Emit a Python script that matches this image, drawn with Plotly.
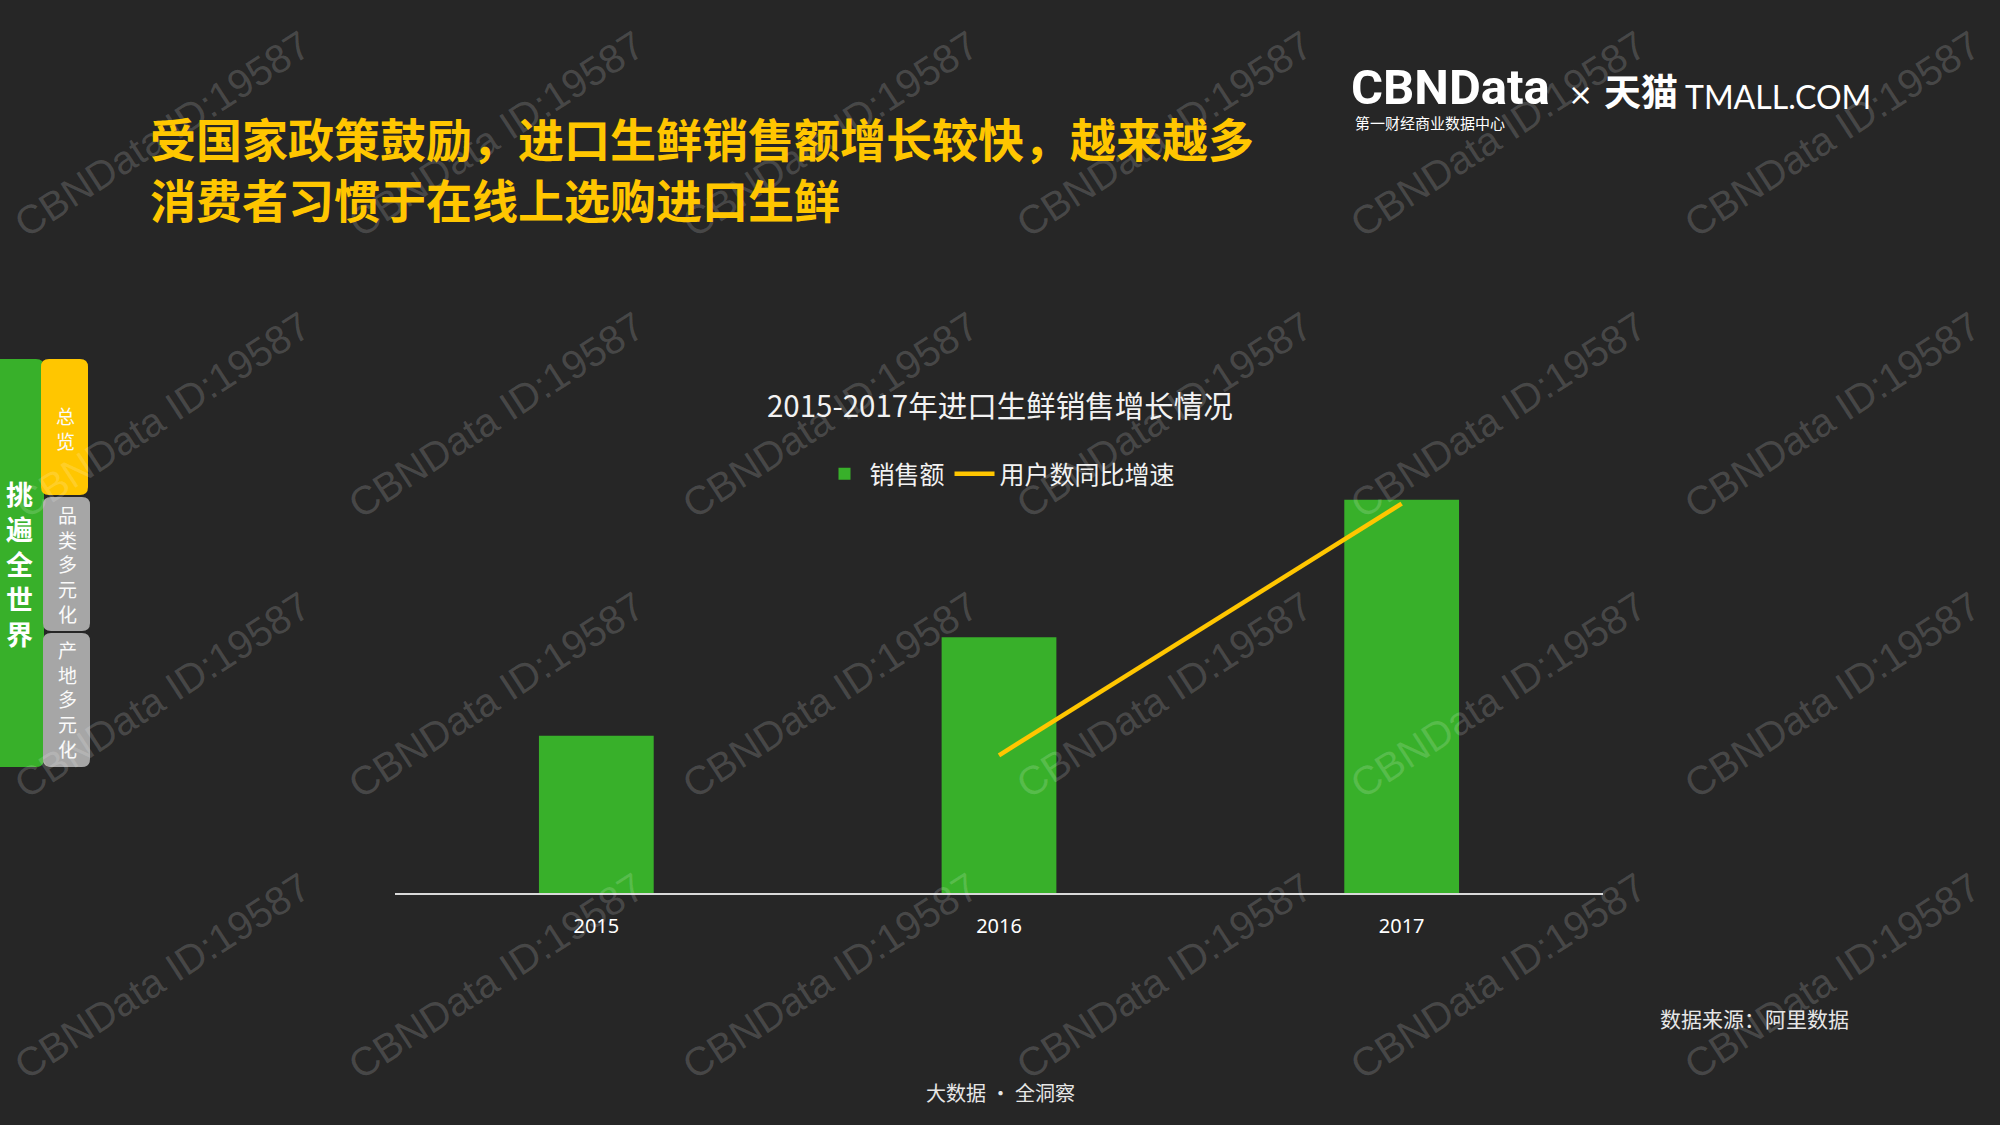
import plotly.graph_objects as go

# ---------------- data ----------------
years = ["2015", "2016", "2017"]
sales = [40, 65, 100]              # 销售额 (relative index)
user_growth = [None, 35, 99]

series_names = ["销售额", "用户数同比增速"]
chart_title = "2015-2017年进口生鲜销售增长情况"
headline = ["受国家政策鼓励，进口生鲜销售额增长较快，越来越多", "消费者习惯于在线上选购进口生鲜"]
source_text = "数据来源：阿里数据"
footer_text = "大数据 · 全洞察"
side_main = "挑遍全世界"
side_tabs = ["总览", "品类多元化", "产地多元化"]
watermark = "CBNData ID:19587"

# ---------------- style ----------------
W, H = 2000, 1125
BG = "#262626"
GREEN = "#38B02A"
YELLOW = "#FFC600"
GRAY = "#A6A6A6"
CJK = "Noto Sans CJK SC"


def px(x):
    return x / W


def py(y):
    return 1 - y / H


def rrect(x0, y0, x1, y1, r):
    X0, X1 = px(x0), px(x1)
    Y0, Y1 = py(y0), py(y1)
    rx, ry = r / W, r / H
    return (f"M{X0 + rx},{Y0} L{X1 - rx},{Y0} Q{X1},{Y0} {X1},{Y0 - ry} "
            f"L{X1},{Y1 + ry} Q{X1},{Y1} {X1 - rx},{Y1} L{X0 + rx},{Y1} "
            f"Q{X0},{Y1} {X0},{Y1 + ry} L{X0},{Y0 - ry} Q{X0},{Y0} {X0 + rx},{Y0} Z")


fig = go.Figure()
fig.add_trace(go.Bar(x=years, y=sales, name=series_names[0],
                     marker=dict(color=GREEN, line=dict(width=0)), yaxis="y"))
fig.add_trace(go.Scatter(x=years, y=user_growth, name=series_names[1], mode="lines",
                         line=dict(color=YELLOW, width=4.5), yaxis="y2"))

fig.update_layout(
    width=W, height=H,
    margin=dict(l=0, r=0, t=0, b=0),
    paper_bgcolor=BG, plot_bgcolor="rgba(0,0,0,0)",
    bargap=0.715,
    showlegend=True,
    legend=dict(orientation="h", x=px(1000), xanchor="center", y=py(474), yanchor="middle",
                font=dict(family=CJK, size=25, color="#F2F2F2"),
                bgcolor="rgba(0,0,0,0)", itemwidth=40),
    xaxis=dict(domain=[px(395), px(1603)], type="category", range=[-0.5, 2.5],
               showline=True, linecolor="#D9D9D9", linewidth=2,
               showgrid=False, zeroline=False, ticks="outside", ticklen=14,
               tickcolor="rgba(0,0,0,0)",
               tickfont=dict(family="Noto Sans, Open Sans, sans-serif", size=20, color="#FFFFFF")),
    yaxis=dict(domain=[py(893), py(480)], range=[0, 105], visible=False),
    yaxis2=dict(overlaying="y", range=[0, 105], visible=False),
    hovermode=False,
)

shapes = []
# sidebar
shapes.append(dict(type="path", path=rrect(-10, 359, 44, 767, 8), xref="paper", yref="paper",
                   fillcolor=GREEN, line=dict(width=0), layer="below"))
tab_boxes = [(41, 359, 88, 495, YELLOW), (43, 497, 90, 631, GRAY), (43, 633, 90, 767, GRAY)]
for (x0, y0, x1, y1, c) in tab_boxes:
    shapes.append(dict(type="path", path=rrect(x0, y0, x1, y1, 8), xref="paper", yref="paper",
                       fillcolor=c, line=dict(width=0), layer="below"))
fig.update_layout(shapes=shapes)

ann = []
# watermarks (behind other texts)
for cy in [134, 415, 695, 976]:
    for cx in [162, 496, 830, 1164, 1498, 1832]:
        ann.append(dict(x=px(cx), y=py(cy), xref="paper", yref="paper", text=watermark,
                        showarrow=False, textangle=-33, xanchor="center", yanchor="middle",
                        font=dict(family="Liberation Sans", size=40, color="rgba(255,255,255,0.16)")))

# headline
for i, line in enumerate(headline):
    ann.append(dict(x=px(148), y=py(137 + 61 * i), xref="paper", yref="paper", text=f"<b>{line}</b>",
                    showarrow=False, xanchor="left", yanchor="middle",
                    font=dict(family=CJK, size=46, color=YELLOW)))

# logo
ann.append(dict(x=px(1350), y=py(87), xref="paper", yref="paper", text="<b>CBNData</b>",
                showarrow=False, xanchor="left", yanchor="middle", height=42, borderpad=0,
                font=dict(family="Roboto", size=49, color="#FFFFFF")))
ann.append(dict(x=px(1354), y=py(122), xref="paper", yref="paper", text="第一财经商业数据中心",
                showarrow=False, xanchor="left", yanchor="middle", borderpad=0,
                font=dict(family=CJK, size=15, color="#FFFFFF")))
ann.append(dict(x=px(1580), y=py(95), xref="paper", yref="paper", text="×",
                showarrow=False, xanchor="center", yanchor="middle",
                font=dict(family="DejaVu Sans", size=30, color="#FFFFFF")))
ann.append(dict(x=px(1602), y=py(90), xref="paper", yref="paper", text="<b>天猫</b>",
                showarrow=False, xanchor="left", yanchor="middle",
                font=dict(family=CJK, size=37, color="#FFFFFF")))
ann.append(dict(x=px(1683), y=py(96), xref="paper", yref="paper", text="TMALL.COM",
                showarrow=False, xanchor="left", yanchor="middle",
                font=dict(family="Lato", size=32, color="#FFFFFF")))

# chart title
ann.append(dict(x=px(1000), y=py(404), xref="paper", yref="paper", text=chart_title,
                showarrow=False, xanchor="center", yanchor="middle",
                font=dict(family=CJK, size=29.5, color="#F2F2F2")))

# sidebar texts
ann.append(dict(x=px(19), y=py(563), xref="paper", yref="paper",
                text="<b>" + "<br>".join(side_main) + "</b>",
                showarrow=False, xanchor="center", yanchor="middle",
                font=dict(family=CJK, size=27, color="#FFFFFF")))
tab_centers = [(65, 428), (67, 564), (67, 699)]
for t, (cx, cy) in zip(side_tabs, tab_centers):
    ann.append(dict(x=px(cx), y=py(cy), xref="paper", yref="paper", text="<br>".join(t),
                    showarrow=False, xanchor="center", yanchor="middle",
                    font=dict(family=CJK, size=19, color="#FAFAFA")))

# source & footer
ann.append(dict(x=px(1658), y=py(1018), xref="paper", yref="paper", text=source_text,
                showarrow=False, xanchor="left", yanchor="middle",
                font=dict(family=CJK, size=21, color="#E6E6E6")))
ann.append(dict(x=px(1000), y=py(1092), xref="paper", yref="paper", text=footer_text,
                showarrow=False, xanchor="center", yanchor="middle",
                font=dict(family=CJK, size=20, color="#E6E6E6")))

fig.update_layout(annotations=ann)
fig.write_html("out.html", config={"displayModeBar": False},
               post_script="document.body.style.margin='0';document.body.style.background='#262626';")
